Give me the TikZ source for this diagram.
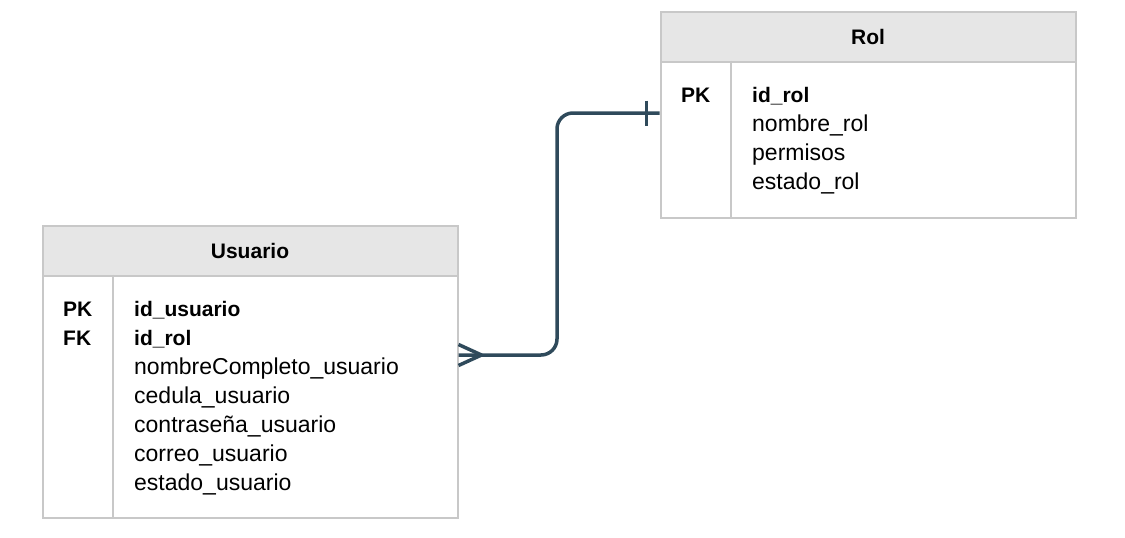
\documentclass[tikz,border=0pt]{standalone}
\usepackage{fontspec}
\setmainfont{Liberation Sans}
\definecolor{bordercol}{RGB}{200,200,200}
\definecolor{hdrfill}{RGB}{230,230,230}
\definecolor{conncol}{RGB}{47,74,91}
\newcommand{\bfld}[1]{{\fontsize{21}{29}\selectfont\bfseries #1}}
\begin{document}
\begin{tikzpicture}[x=1pt,y=-1pt,
  tbl/.style={draw=bordercol, line width=2pt},
  hdr/.style={tbl, fill=hdrfill, anchor=north west, minimum width=415pt, minimum height=50pt, inner sep=0pt, font=\fontsize{21}{25}\selectfont\bfseries},
  tbody/.style={tbl, fill=white, anchor=north west, minimum width=415pt, inner sep=0pt},
  fld/.style={anchor=base west, inner sep=0pt, font=\fontsize{23}{29}\selectfont},
  conn/.style={draw=conncol, line width=3.5pt, line join=round}]
\useasboundingbox (0,0) rectangle (1125,538);
% Rol table
\node[tbody, minimum height=156pt] (rolb) at (659.5,60.5) {};
\node[hdr] (rolh) at (659.5,10.5) {Rol};
\draw[tbl] ([xshift=71pt]rolb.north west) -- ([xshift=71pt]rolb.south west);
\node[fld] (rk1) at (681,102) {\bfld{PK}};
\node[fld] (r1) at (752,102) {\bfld{id\_rol}};
\node[fld] (r2) at (752,131) {nombre\_rol};
\node[fld] (r3) at (752,160) {permisos};
\node[fld] (r4) at (752,189) {estado\_rol};
% Usuario table
\node[tbody, minimum height=242pt] (usub) at (41.5,274.5) {};
\node[hdr] (usuh) at (41.5,224.5) {Usuario};
\draw[tbl] ([xshift=71pt]usub.north west) -- ([xshift=71pt]usub.south west);
\node[fld] (uk1) at (63,316) {\bfld{PK}};
\node[fld] (uk2) at (63,345) {\bfld{FK}};
\node[fld] (u1) at (134,316) {\bfld{id\_usuario}};
\node[fld] (u2) at (134,345) {\bfld{id\_rol}};
\node[fld] (u3) at (134,374) {nombreCompleto\_usuario};
\node[fld] (u4) at (134,403) {cedula\_usuario};
\node[fld] (u5) at (134,432) {contraseña\_usuario};
\node[fld] (u6) at (134,461) {correo\_usuario};
\node[fld] (u7) at (134,490) {estado\_usuario};
% connector
\coordinate (ua) at ([yshift=-80.5pt]usub.north east);
\coordinate (ra) at ([yshift=-52.5pt]rolb.north west);
\coordinate (mid) at (557,0);
\draw[conn, rounded corners=16pt] (ua) -| (mid |- ra) -- (ra);
\draw[conn] ([yshift=10.5pt]ua) -- ([xshift=23pt]ua) -- ([yshift=-10.5pt]ua);
\draw[conn] ([xshift=-13pt,yshift=12.5pt]ra) -- ([xshift=-13pt,yshift=-12.5pt]ra);
\end{tikzpicture}
\end{document}
